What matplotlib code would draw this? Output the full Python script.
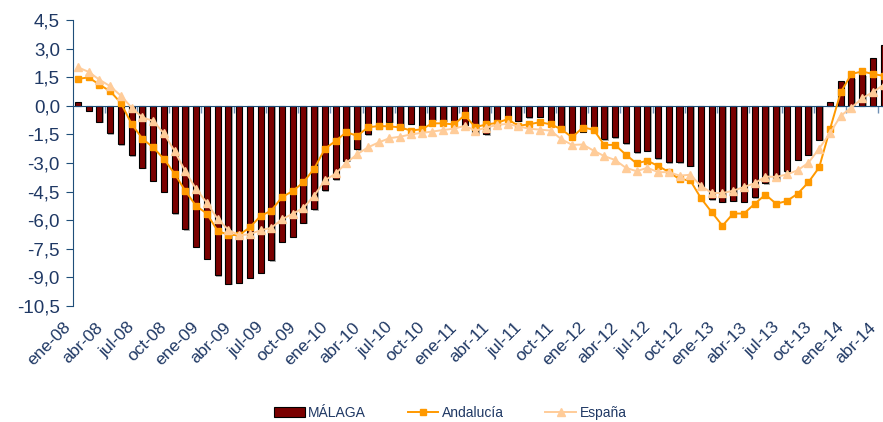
import numpy as np
import matplotlib.pyplot as plt
from matplotlib import patheffects
from matplotlib.lines import Line2D
from matplotlib.patches import Patch
from matplotlib.transforms import blended_transform_factory, ScaledTranslation

# monthly series, ene-08 .. abr-14 (76 months)
malaga = [
    0.2, -0.26, -0.84, -1.44, -2.02, -2.6, -3.25, -3.92, -4.52, -5.63, -6.47, -7.39,
    -8.03, -8.9, -9.33, -9.29, -9.02, -8.76, -8.1, -7.12, -6.87, -6.15, -5.43, -4.44,
    -3.85, -2.88, -2.29, -1.5, -1.2, -0.85, -1.2, -0.95, -1.1, -0.72, -0.8, -0.85,
    -1.0, -1.45, -1.5, -0.75, -0.55, -0.8, -0.6, -0.58, -0.8, -1.25, -1.65, -1.35,
    -1.3, -1.76, -1.66, -1.96, -2.43, -2.37, -2.75, -2.96, -2.96, -3.16, -4.28, -4.9,
    -5.03, -4.97, -5.05, -4.8, -4.07, -3.85, -3.43, -2.82, -2.56, -1.77, 0.21, 1.32,
    1.5, 1.65, 2.52, 3.2,
]
andalucia = [
    1.41, 1.49, 1.11, 0.77, 0.15, -0.95, -1.72, -2.18, -2.78, -3.56, -4.46, -5.25,
    -5.65, -6.55, -6.78, -6.78, -6.38, -5.78, -5.5, -4.79, -4.47, -4.01, -3.29, -2.25,
    -1.84, -1.38, -1.58, -1.13, -1.06, -1.08, -1.13, -1.3, -1.23, -0.92, -0.92, -0.98,
    -0.5, -1.12, -0.98, -0.9, -0.7, -1.05, -0.97, -0.86, -0.97, -1.23, -1.65, -1.14,
    -1.25, -2.05, -2.05, -2.56, -3.02, -2.88, -3.15, -3.47, -3.85, -3.91, -4.85, -5.58,
    -6.29, -5.65, -5.65, -5.14, -4.66, -5.14, -4.99, -4.61, -4.01, -3.23, -1.24, 0.7,
    1.67, 1.8, 1.67, 1.57,
]
espana = [
    2.02, 1.78, 1.37, 1.03, 0.53, -0.09, -0.61, -0.79, -1.44, -2.37, -3.43, -4.36,
    -5.08, -5.93, -6.5, -6.8, -6.73, -6.53, -6.4, -5.95, -5.66, -5.35, -4.71, -3.91,
    -3.55, -2.99, -2.54, -2.18, -1.92, -1.7, -1.62, -1.5, -1.42, -1.35, -1.27, -1.2,
    -1.05, -1.3, -1.15, -1.0, -0.95, -1.08, -1.2, -1.25, -1.3, -1.75, -2.05, -2.03,
    -2.35, -2.64, -2.84, -3.25, -3.43, -3.25, -3.48, -3.48, -3.66, -3.62, -4.2, -4.57,
    -4.58, -4.45, -4.26, -4.06, -3.71, -3.73, -3.6, -3.38, -2.99, -2.24, -1.44, -0.53,
    -0.09, 0.39, 0.72, 1.1,
]
month_labels = [
    "ene-08", "abr-08", "jul-08", "oct-08", "ene-09", "abr-09", "jul-09", "oct-09",
    "ene-10", "abr-10", "jul-10", "oct-10", "ene-11", "abr-11", "jul-11", "oct-11",
    "ene-12", "abr-12", "jul-12", "oct-12", "ene-13", "abr-13", "jul-13", "oct-13",
    "ene-14", "abr-14",
]
y_ticks = [4.5, 3.0, 1.5, 0.0, -1.5, -3.0, -4.5, -6.0, -7.5, -9.0, -10.5]
y_tick_labels = ["4,5", "3,0", "1,5", "0,0", "-1,5", "-3,0", "-4,5", "-6,0", "-7,5", "-9,0", "-10,5"]

AXIS_COLOR = "#1F4E79"
TEXT_COLOR = "#1F3864"
BAR_COLOR = "#7A0000"
AND_COLOR = "#FF9900"
ESP_COLOR = "#FFCC99"

plt.rcParams["font.family"] = ["Liberation Sans", "DejaVu Sans"]

W, H = 883, 422
fig = plt.figure(figsize=(W / 100, H / 100), dpi=100)
# axes runs a little past the right edge, the last bar is cut like in the source
ax = fig.add_axes([72.5 / W, 116 / H, 816.5 / W, 286 / H])

x = np.arange(len(malaga))
bars = ax.bar(x, malaga, width=0.56, color=BAR_COLOR, edgecolor="black",
              linewidth=0.8, zorder=2)
for b in bars:
    b.set_path_effects([
        patheffects.SimplePatchShadow(offset=(1, -1), shadow_rgbFace="#8c8c8c", alpha=0.7),
        patheffects.Normal(),
    ])

ax.plot(x, andalucia, color=AND_COLOR, lw=1.4, marker="s", ms=5, zorder=3)
ax.plot(x, espana, color=ESP_COLOR, lw=1.4, marker="^", ms=6, zorder=4)

ax.set_xlim(-0.5, len(malaga) - 0.5)
ax.set_ylim(-10.5, 4.5)

for s in ["top", "right"]:
    ax.spines[s].set_visible(False)
ax.spines["bottom"].set_position(("data", 0))
ax.spines["bottom"].set_color(AXIS_COLOR)
ax.spines["left"].set_color(AXIS_COLOR)

# small ticks on the zero line between quarters
ax.set_xticks(np.arange(2.5, len(malaga), 3))
ax.set_xticklabels([])
ax.tick_params(axis="x", direction="out", length=5, color="#6f8fb5", width=1)

ax.set_yticks(y_ticks)
ax.set_yticklabels(y_tick_labels)
ax.tick_params(axis="y", direction="out", length=5, color=AXIS_COLOR,
               labelsize=13.5, labelcolor=TEXT_COLOR, pad=4)

# month labels at the bottom, rotated
trans = blended_transform_factory(ax.transData, ax.transAxes) + \
    ScaledTranslation(-10 / 100, -19 / 100, fig.dpi_scale_trans)
for pos, lab in zip(np.arange(0, len(malaga), 3), month_labels):
    ax.text(pos, 0, lab, transform=trans, rotation=45, ha="right", va="center",
            rotation_mode="anchor", fontsize=12.5, color=TEXT_COLOR)

handles = [
    Patch(facecolor=BAR_COLOR, edgecolor="black", linewidth=0.8),
    Line2D([], [], color=AND_COLOR, lw=1.4, marker="s", ms=5),
    Line2D([], [], color=ESP_COLOR, lw=1.4, marker="^", ms=6),
]
fig.legend(handles, ["MÁLAGA", "Andalucía", "España"], loc="center",
           bbox_to_anchor=(0.51, 0.022), ncol=3, frameon=False, fontsize=10,
           labelcolor=TEXT_COLOR, handlelength=2.2, handleheight=0.8,
           handletextpad=0.25, columnspacing=3.0)

fig.savefig("out.png", dpi=100)
